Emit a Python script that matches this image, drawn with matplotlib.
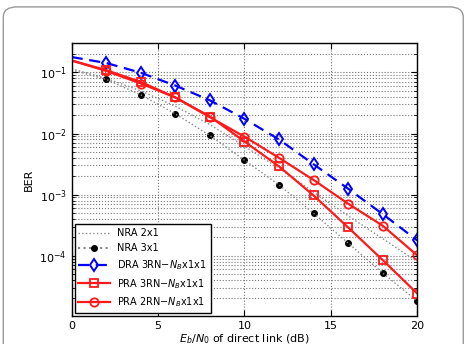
import numpy as np
import matplotlib
matplotlib.use("Agg")
import matplotlib.pyplot as plt
import matplotlib.ticker as ticker
from matplotlib.patches import FancyBboxPatch

snr_db = [0, 2, 4, 6, 8, 10, 12, 14, 16, 18, 20]

nra_2x1 = [0.115, 0.08, 0.05, 0.028, 0.014, 0.0062, 0.0027, 0.0011, 0.00045, 0.00019, 8e-5]
nra_3x1 = [0.11, 0.077, 0.043, 0.021, 0.0093, 0.00367, 0.00144, 0.000495, 0.000161, 5.2e-5, 1.8e-5]
dra_3rn = [0.179, 0.143, 0.099, 0.061, 0.035, 0.0174, 0.0080, 0.00314, 0.00125, 0.00048, 0.000178]
pra_3rn = [0.157, 0.109, 0.070, 0.039, 0.019, 0.0074, 0.0029, 0.00097, 0.00029, 8.5e-5, 2.4e-5]
pra_2rn = [0.157, 0.106, 0.066, 0.039, 0.0185, 0.0089, 0.0040, 0.00174, 0.00071, 0.00031, 0.000101]

fig = plt.figure(figsize=(4.67, 3.44), dpi=100)

# rounded frame around the whole figure
frame = FancyBboxPatch((0.007, -0.2), 0.985, 1.18, boxstyle="round,pad=0,rounding_size=0.03",
                       transform=fig.transFigure, fill=False, edgecolor="#999999", linewidth=1.0)
fig.patches.append(frame)

ax = fig.add_axes([0.1535, 0.0814, 0.74, 0.7926])

ax.semilogy(snr_db, nra_2x1, linestyle=":", color="#888888", linewidth=1.0, label="NRA 2x1")
ax.semilogy(snr_db[1:], nra_3x1[1:], linestyle="none", marker="o", color="black", markersize=4)
ax.semilogy(snr_db, nra_3x1, linestyle=":", color="#888888", linewidth=1.0)
ax.semilogy([], [], linestyle=":", color="#888888", marker="o", markerfacecolor="black",
            markeredgecolor="black", markersize=4, label="NRA 3x1")
ax.semilogy(snr_db, dra_3rn, linestyle=(0, (5, 3)), color="blue", linewidth=1.6,
            marker="d", markersize=6, markerfacecolor="none", markeredgewidth=1.4,
            markevery=list(range(1, 11)), label=r"DRA 3RN$-N_B$x1x1")
ax.semilogy(snr_db, pra_3rn, color="#ff1a1a", linewidth=1.6, marker="s", markersize=5.5,
            markerfacecolor="none", markeredgewidth=1.3, markevery=list(range(1, 11)),
            label=r"PRA 3RN$-N_B$x1x1")
ax.semilogy(snr_db, pra_2rn, color="#ff1a1a", linewidth=1.6, marker="o", markersize=6,
            markerfacecolor="none", markeredgewidth=1.3, markevery=list(range(1, 11)),
            label=r"PRA 2RN$-N_B$x1x1")

ax.set_xlim(0, 20)
ax.set_ylim(1.03e-5, 0.3)
ax.xaxis.set_major_locator(ticker.MultipleLocator(5))
ax.yaxis.set_major_locator(ticker.LogLocator(base=10, numticks=10))
ax.yaxis.set_minor_locator(ticker.LogLocator(base=10, subs=np.arange(2, 10), numticks=10))
ax.yaxis.set_minor_formatter(ticker.NullFormatter())
ax.tick_params(axis="both", which="both", direction="in", labelsize=8, top=True, right=True)
ax.tick_params(axis="both", which="major", length=4)
ax.tick_params(axis="both", which="minor", length=2)

ax.grid(True, which="major", linestyle=":", color="#777777", linewidth=0.8)
ax.grid(True, which="minor", axis="y", linestyle=":", color="#777777", linewidth=0.8)
for s in ax.spines.values():
    s.set_linewidth(1.0)

ax.set_ylabel("BER", fontsize=8)
ax.set_xlabel(r"$E_b/N_0$ of direct link (dB)", fontsize=8, labelpad=1)

leg = ax.legend(loc="lower left", fontsize=7, handlelength=3.2, borderaxespad=0.3,
                fancybox=False, framealpha=1, edgecolor="black", labelspacing=0.5)
leg.get_frame().set_linewidth(1.0)

fig.savefig("out.png", dpi=100)
